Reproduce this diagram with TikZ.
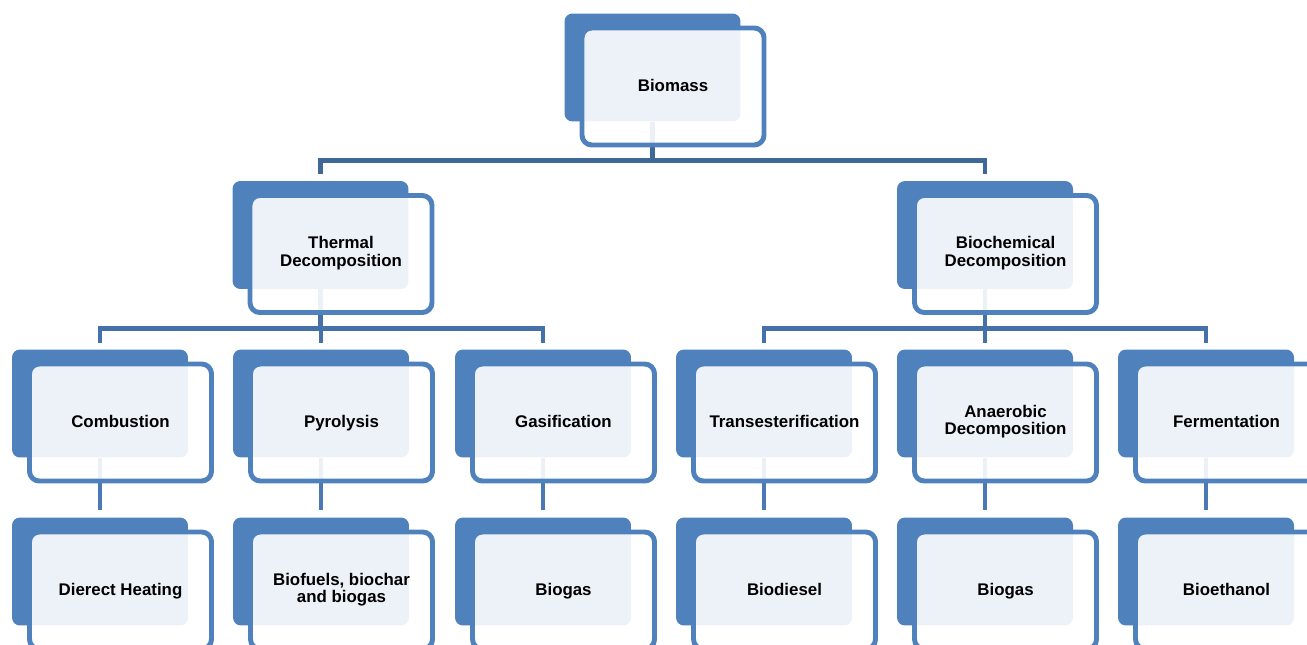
\documentclass[tikz,border=0pt]{standalone}
\usepackage{fontspec}
\setmainfont{Liberation Sans}
\usetikzlibrary{calc,backgrounds}

\definecolor{boxblue}{HTML}{4F81BD}
\definecolor{linkA}{HTML}{3F6899}
\definecolor{linkB}{HTML}{4571AA}
\definecolor{linkC}{HTML}{4A7AB6}

\begin{document}
\begin{tikzpicture}[x=0.02cm, y=-0.02cm, line join=round,
  backbox/.style={rectangle, rounded corners=4.5pt, fill=boxblue,
    minimum width=3.52cm, minimum height=2.16cm, inner sep=0pt},
  frontbox/.style={rectangle, rounded corners=5.5pt, draw=boxblue,
    line width=2.8pt, fill=white, fill opacity=0.9, text opacity=1,
    minimum width=3.64cm, minimum height=2.34cm, inner sep=0pt,
    align=center, font=\bfseries\fontsize{9.6}{10}\selectfont,
    execute at begin node={\rule{0pt}{8.7pt}}, execute at end node=\strut},
  link/.style={line width=2.8pt}]

\useasboundingbox (0,0) rectangle (1307,645);

% ----------------------------
% PARAMETERS
% ----------------------------
\def\dx{20.5}    % front box shift right
\def\dy{19}      % front box shift down
\def\yA{67.5}    % row centres (back boxes)
\def\yB{235}
\def\yC{403.5}
\def\yD{571.5}

% ----------------------------
% ROOT
% ----------------------------
\node[backbox] (bio) at (652.5,\yA) {};
\node[frontbox] (bio-f) at ($(bio)+(\dx,\dy)$) {Biomass};

% ----------------------------
% SECOND LEVEL
% ----------------------------
\node[backbox] (therm) at (320.5,\yB) {};
\node[frontbox] (therm-f) at ($(therm)+(\dx,\dy)$) {Thermal\\Decomposition};

\node[backbox] (bioch) at (985,\yB) {};
\node[frontbox] (bioch-f) at ($(bioch)+(\dx,\dy)$) {Biochemical\\Decomposition};

% ----------------------------
% PROCESSES
% ----------------------------
\node[backbox] (comb) at (100,\yC) {};
\node[frontbox] (comb-f) at ($(comb)+(\dx,\dy)$) {Combustion};

\node[backbox] (pyro) at (321,\yC) {};
\node[frontbox] (pyro-f) at ($(pyro)+(\dx,\dy)$) {Pyrolysis};

\node[backbox] (gasi) at (543,\yC) {};
\node[frontbox] (gasi-f) at ($(gasi)+(\dx,\dy)$) {Gasification};

\node[backbox] (trans) at (764,\yC) {};
\node[frontbox] (trans-f) at ($(trans)+(\dx,\dy)$) {Transesterification};

\node[backbox] (anae) at (985,\yC) {};
\node[frontbox] (anae-f) at ($(anae)+(\dx,\dy)$) {Anaerobic\\Decomposition};

\node[backbox] (ferm) at (1206,\yC) {};
\node[frontbox] (ferm-f) at ($(ferm)+(\dx,\dy)$) {Fermentation};

% ----------------------------
% PRODUCTS
% ----------------------------
\node[backbox] (heat) at (100,\yD) {};
\node[frontbox] (heat-f) at ($(heat)+(\dx,\dy)$) {Dierect Heating};

\node[backbox] (fuels) at (321,\yD) {};
\node[frontbox] (fuels-f) at ($(fuels)+(\dx,\dy)$) {Biofuels, biochar\\and biogas};

\node[backbox] (gasA) at (543,\yD) {};
\node[frontbox] (gasA-f) at ($(gasA)+(\dx,\dy)$) {Biogas};

\node[backbox] (dies) at (764,\yD) {};
\node[frontbox] (dies-f) at ($(dies)+(\dx,\dy)$) {Biodiesel};

\node[backbox] (gasB) at (985,\yD) {};
\node[frontbox] (gasB-f) at ($(gasB)+(\dx,\dy)$) {Biogas};

\node[backbox] (eth) at (1206,\yD) {};
\node[frontbox] (eth-f) at ($(eth)+(\dx,\dy)$) {Bioethanol};

% ----------------------------
% CONNECTORS (behind the boxes)
% ----------------------------
\begin{scope}[on background layer]
  % root to second level
  \draw[link, linkA] (bio.south) -- ++(0,39) coordinate (j0)
    -| ($(therm.north)+(0,-7)$);
  \draw[link, linkA] (j0) -| ($(bioch.north)+(0,-7)$);

  % thermal branch
  \draw[link, linkB] (therm.south) -- ++(0,39) coordinate (j1)
    -| ($(comb.north)+(0,-6)$);
  \draw[link, linkB] (j1) -| ($(pyro.north)+(0,-6)$);
  \draw[link, linkB] (j1) -| ($(gasi.north)+(0,-6)$);

  % biochemical branch
  \draw[link, linkB] (bioch.south) -- ++(0,39) coordinate (j2)
    -| ($(trans.north)+(0,-6)$);
  \draw[link, linkB] (j2) -| ($(anae.north)+(0,-6)$);
  \draw[link, linkB] (j2) -| ($(ferm.north)+(0,-6)$);

  % processes to products
  \draw[link, linkC] (comb.south) -- ($(heat.north)+(0,-7)$);
  \draw[link, linkC] (pyro.south) -- ($(fuels.north)+(0,-7)$);
  \draw[link, linkC] (gasi.south) -- ($(gasA.north)+(0,-7)$);
  \draw[link, linkC] (trans.south) -- ($(dies.north)+(0,-7)$);
  \draw[link, linkC] (anae.south) -- ($(gasB.north)+(0,-7)$);
  \draw[link, linkC] (ferm.south) -- ($(eth.north)+(0,-7)$);
\end{scope}

\end{tikzpicture}
\end{document}
